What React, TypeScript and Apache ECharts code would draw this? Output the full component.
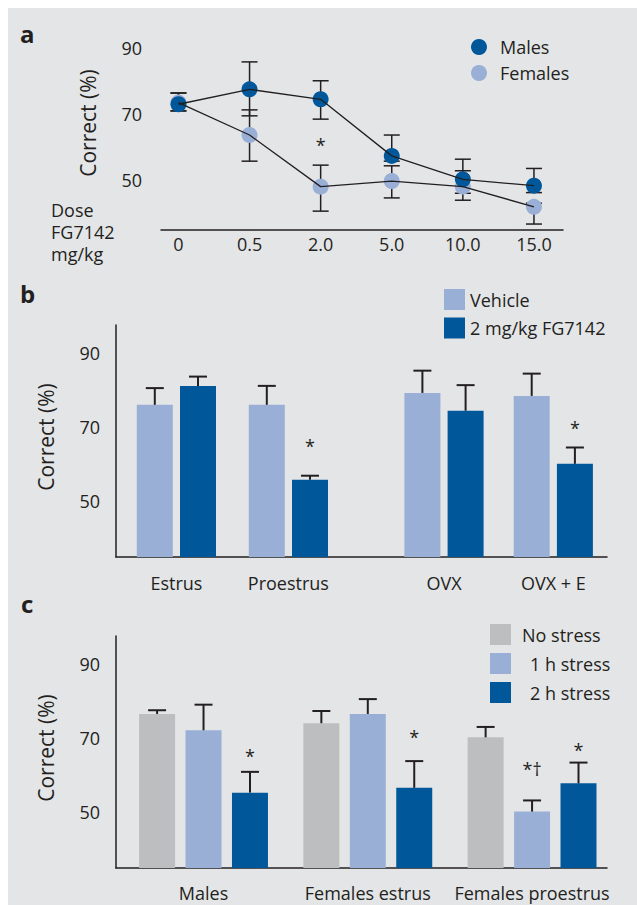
import React, { useEffect, useRef } from 'react';
import * as echarts from 'echarts';

// ---------- data ----------
const doses = ['0', '0.5', '2.0', '5.0', '10.0', '15.0'];
const malesMean = [73, 77.5, 74.5, 57.4, 50.3, 48.4];
const malesLow = [71, 69.5, 68.5, 55.8, 46.1, 46.3];
const malesHigh = [76.4, 85.8, 80.1, 63.7, 56.4, 53.6];
const femalesMean = [73.5, 63.7, 48.1, 49.8, 48.1, 42.0];
const femalesLow = [71, 55.8, 40.7, 44.7, 44.0, 36.8];
const femalesHigh = [76.4, 71.3, 54.6, 54.4, 52.9, 43.1];
const doseMarks = [{ category: '2.0', level: 62, text: '*' }];

const cycleGroups = ['Estrus', 'Proestrus'];
const ovxGroups = ['OVX', 'OVX + E'];
const vehicleMean = [76, 76, 79.2, 78.4];
const vehicleSem = [4.5, 5.1, 6.0, 6.0];
const fg7142Mean = [81.1, 55.8, 74.4, 60.1];
const fg7142Sem = [2.5, 1.1, 6.9, 4.4];
const fg7142Marks = [
  { category: 'Proestrus', level: 66.1, text: '*' },
  { category: 'OVX + E', level: 70.8, text: '*' },
];

const stressGroups = ['Males', 'Females estrus', 'Females proestrus'];
const noStressMean = [76.5, 74.0, 70.2];
const noStressSem = [1.0, 3.3, 2.8];
const stress1hMean = [72.1, 76.5, 50.2];
const stress1hSem = [6.9, 4.0, 3.0];
const stress2hMean = [55.3, 56.6, 57.8];
const stress2hSem = [5.6, 7.2, 5.6];
const stress1hMarks = [{ category: 'Females proestrus', level: 62.7, text: '*†' }];
const stress2hMarks = [
  { category: 'Males', level: 66.3, text: '*' },
  { category: 'Females estrus', level: 71.4, text: '*' },
  { category: 'Females proestrus', level: 67.9, text: '*' },
];

const yTickLabels = [50, 70, 90];

// ---------- styles ----------
const INK = '#231f20';
const BG = '#e4e5e7';
const DARK = '#00589b';
const LIGHT = '#9aafd6';
const GREY = '#bdbec0';
const FONT = "'Open Sans', sans-serif";
const FS = 18;
const BAR_W = 36;

const lineOnlyX = (gridIndex: number) => ({
  type: 'value', gridIndex, min: 0, max: 1,
  axisLine: { show: true, onZero: false, lineStyle: { color: INK, width: 1.5 } },
  axisTick: { show: false }, axisLabel: { show: false }, splitLine: { show: false },
});
const catX = (gridIndex: number, data: string[], margin: number) => ({
  type: 'category', gridIndex, data,
  axisLine: { show: false }, axisTick: { show: false }, splitLine: { show: false },
  axisLabel: { color: INK, fontSize: FS, fontFamily: FONT, margin, interval: 0 },
});
const labelY = (gridIndex: number, max: number, showLine: boolean, margin: number) => ({
  type: 'value', gridIndex, min: 35, max, interval: 5,
  axisLine: { show: showLine, onZero: false, lineStyle: { color: INK, width: 1.5 } },
  axisTick: { show: false }, splitLine: { show: false },
  axisLabel: {
    color: INK, fontSize: FS, fontFamily: FONT, margin,
    formatter: (v: number) => (yTickLabels.includes(v) ? String(v) : ''),
  },
});
const hiddenY = (gridIndex: number, max: number) => ({
  type: 'value', gridIndex, min: 35, max, show: false, splitLine: { show: false },
});

const rangeBars = (name: string, xi: number, low: number[], high: number[]) => ({
  type: 'custom', name, xAxisIndex: xi, yAxisIndex: xi, z: 3, silent: true,
  encode: { x: 0, y: [1, 2] },
  data: low.map((l, i) => [i, l, high[i]]),
  renderItem: (params: any, api: any) => {
    const lo = api.coord([api.value(0), api.value(1)]);
    const hi = api.coord([api.value(0), api.value(2)]);
    const x = lo[0];
    const h = 8;
    const st = { stroke: INK, lineWidth: 1.5 };
    return {
      type: 'group', children: [
        { type: 'line', shape: { x1: x, y1: lo[1], x2: x, y2: hi[1] }, style: st },
        { type: 'line', shape: { x1: x - h, y1: lo[1], x2: x + h, y2: lo[1] }, style: st },
        { type: 'line', shape: { x1: x - h, y1: hi[1], x2: x + h, y2: hi[1] }, style: st },
      ],
    };
  },
});

const whiskers = (name: string, xi: number, mean: number[], sem: number[], offset: number) => ({
  type: 'custom', name, xAxisIndex: xi, yAxisIndex: xi, z: 5, silent: true,
  encode: { x: 0, y: [1, 2] },
  data: mean.map((m, i) => [i, m, m + sem[i]]),
  renderItem: (params: any, api: any) => {
    const p0 = api.coord([api.value(0), api.value(1)]);
    const p1 = api.coord([api.value(0), api.value(2)]);
    const x = p0[0] + offset;
    const st = { stroke: INK, lineWidth: 2 };
    return {
      type: 'group', children: [
        { type: 'line', shape: { x1: x, y1: p0[1], x2: x, y2: p1[1] }, style: st },
        { type: 'line', shape: { x1: x - 9, y1: p1[1], x2: x + 9, y2: p1[1] }, style: st },
      ],
    };
  },
});

const markTexts = (
  name: string, xi: number, cats: string[],
  marks: { category: string; level: number; text: string }[], offset: number,
) => {
  const list = marks.filter((m) => cats.includes(m.category));
  return {
    type: 'custom', name, xAxisIndex: xi, yAxisIndex: xi, z: 7, silent: true,
    encode: { x: 0, y: 1 },
    data: list.map((m) => [cats.indexOf(m.category), m.level]),
    renderItem: (params: any, api: any) => {
      const m = list[params.dataIndex];
      const p = api.coord([api.value(0), api.value(1)]);
      return {
        type: 'text', x: p[0] + offset, y: p[1] + 4,
        style: { text: m.text, fill: INK, fontSize: FS, fontFamily: FONT, align: 'center', verticalAlign: 'middle' },
      };
    },
  };
};

const barSeries = (name: string, xi: number, data: number[], color: string, gap: string) => ({
  type: 'bar', name, xAxisIndex: xi, yAxisIndex: xi, data, barWidth: BAR_W, barGap: gap,
  itemStyle: { color }, z: 2, silent: true,
});

export default function App() {
  const ref = useRef<HTMLDivElement>(null);
  useEffect(() => {
    if (!ref.current) return;
    const chart = echarts.init(ref.current, undefined, { renderer: 'svg' });
    const gapB = 0.2 * BAR_W;
    const gapC = 0.29 * BAR_W;
    const offB = (k: number) => (k - 0.5) * (BAR_W + gapB);
    const offC = (k: number) => (k - 1) * (BAR_W + gapC);
    const allB = [...cycleGroups, ...ovxGroups];
    const nL = cycleGroups.length;

    const textStyleBase = { color: INK, fontSize: FS, fontFamily: FONT };
    const titleStyle = { text: 'Correct (%)', fill: INK, fontSize: 21, fontFamily: FONT, align: 'center', verticalAlign: 'middle' };
    const letterStyle = { fill: INK, fontSize: 24, fontWeight: 'bold', fontFamily: FONT, align: 'left', verticalAlign: 'middle' };

    const option: any = {
      animation: false,
      backgroundColor: '#ffffff',
      textStyle: { fontFamily: FONT, color: INK },
      grid: [
        { left: 161, top: 48, width: 402, height: 182 },
        { left: 142.9, top: 48, width: 426.6, height: 182 },
        { left: 116, top: 325, width: 491, height: 232 },
        { left: 120.4, top: 325, width: 224, height: 232 },
        { left: 389.35, top: 325, width: 218.6, height: 232 },
        { left: 116, top: 636, width: 491, height: 232 },
        { left: 121.4, top: 636, width: 492.8, height: 232 },
      ],
      xAxis: [
        lineOnlyX(0),
        catX(1, doses, 5),
        lineOnlyX(2),
        catX(3, cycleGroups, 17),
        catX(4, ovxGroups, 17),
        lineOnlyX(5),
        catX(6, stressGroups, 16),
      ],
      yAxis: [
        labelY(0, 90, false, 19),
        hiddenY(1, 90),
        labelY(2, 97.5, true, 16),
        hiddenY(3, 97.5),
        hiddenY(4, 97.5),
        labelY(5, 97.5, true, 16),
        hiddenY(6, 97.5),
      ],
      legend: [
        {
          data: ['Males', 'Females'], orient: 'vertical', left: 471, top: 38, padding: 0,
          itemWidth: 16, itemHeight: 16, itemGap: 8, icon: 'circle', selectedMode: false,
          textStyle: { ...textStyleBase, padding: [0, 0, 0, 8] },
        },
        {
          data: ['Vehicle', '2 mg/kg FG7142'], orient: 'vertical', left: 444, top: 289, padding: 0,
          itemWidth: 21, itemHeight: 21, itemGap: 7.5, icon: 'rect', selectedMode: false,
          textStyle: { ...textStyleBase },
        },
        {
          data: ['No stress', '1 h stress', '2 h stress'], orient: 'vertical', left: 490, top: 624, padding: 0,
          itemWidth: 21, itemHeight: 21, itemGap: 8, icon: 'rect', selectedMode: false,
          formatter: (name: string) => (name === 'No stress' ? `{n|${name}}` : `{s|${name}}`),
          textStyle: {
            ...textStyleBase,
            rich: {
              n: { ...textStyleBase, padding: [0, 0, 0, 6] },
              s: { ...textStyleBase, padding: [0, 0, 0, 14] },
            },
          },
        },
      ],
      graphic: [
        { type: 'rect', z: -10, silent: true, shape: { x: 8, y: 8, width: 629, height: 897 }, style: { fill: BG } },
        { type: 'text', x: 20, y: 33, style: { ...letterStyle, text: 'a' } },
        { type: 'text', x: 20, y: 293, style: { ...letterStyle, text: 'b' } },
        { type: 'text', x: 21, y: 603, style: { ...letterStyle, text: 'c' } },
        { type: 'text', x: 88, y: 123, rotation: Math.PI / 2, style: { ...titleStyle } },
        { type: 'text', x: 46, y: 437, rotation: Math.PI / 2, style: { ...titleStyle } },
        { type: 'text', x: 46, y: 748, rotation: Math.PI / 2, style: { ...titleStyle } },
        { type: 'text', x: 51, y: 199, style: { text: 'Dose\nFG7142\nmg/kg', fill: INK, fontSize: FS, lineHeight: 22, fontFamily: FONT, align: 'left', verticalAlign: 'top' } },
      ],
      series: [
        // panel a
        rangeBars('Males SEM', 1, malesLow, malesHigh),
        rangeBars('Females SEM', 1, femalesLow, femalesHigh),
        {
          type: 'scatter', name: 'Females', xAxisIndex: 1, yAxisIndex: 1, data: femalesMean,
          symbolSize: 16, itemStyle: { color: LIGHT, opacity: 1 }, z: 4, silent: true,
        },
        {
          type: 'scatter', name: 'Males', xAxisIndex: 1, yAxisIndex: 1, data: malesMean,
          symbolSize: 16, itemStyle: { color: DARK, opacity: 1 }, z: 5, silent: true,
        },
        {
          type: 'line', name: 'Males trend', xAxisIndex: 1, yAxisIndex: 1, data: malesMean,
          symbol: 'none', lineStyle: { color: INK, width: 1.3 }, z: 6, silent: true,
        },
        {
          type: 'line', name: 'Females trend', xAxisIndex: 1, yAxisIndex: 1, data: femalesMean,
          symbol: 'none', lineStyle: { color: INK, width: 1.3 }, z: 6, silent: true,
        },
        markTexts('Dose marks', 1, doses, doseMarks, 0),
        // panel b
        barSeries('Vehicle', 3, vehicleMean.slice(0, nL), LIGHT, '20%'),
        barSeries('2 mg/kg FG7142', 3, fg7142Mean.slice(0, nL), DARK, '20%'),
        barSeries('Vehicle', 4, vehicleMean.slice(nL), LIGHT, '20%'),
        barSeries('2 mg/kg FG7142', 4, fg7142Mean.slice(nL), DARK, '20%'),
        whiskers('Vehicle SEM L', 3, vehicleMean.slice(0, nL), vehicleSem.slice(0, nL), offB(0)),
        whiskers('FG SEM L', 3, fg7142Mean.slice(0, nL), fg7142Sem.slice(0, nL), offB(1)),
        whiskers('Vehicle SEM R', 4, vehicleMean.slice(nL), vehicleSem.slice(nL), offB(0)),
        whiskers('FG SEM R', 4, fg7142Mean.slice(nL), fg7142Sem.slice(nL), offB(1)),
        markTexts('FG marks L', 3, allB.slice(0, nL), fg7142Marks, offB(1)),
        markTexts('FG marks R', 4, allB.slice(nL), fg7142Marks, offB(1)),
        // panel c
        barSeries('No stress', 6, noStressMean, GREY, '29%'),
        barSeries('1 h stress', 6, stress1hMean, LIGHT, '29%'),
        barSeries('2 h stress', 6, stress2hMean, DARK, '29%'),
        whiskers('No stress SEM', 6, noStressMean, noStressSem, offC(0)),
        whiskers('1 h SEM', 6, stress1hMean, stress1hSem, offC(1)),
        whiskers('2 h SEM', 6, stress2hMean, stress2hSem, offC(2)),
        markTexts('1 h marks', 6, stressGroups, stress1hMarks, offC(1)),
        markTexts('2 h marks', 6, stressGroups, stress2hMarks, offC(2)),
      ],
    };
    chart.setOption(option);
    return () => chart.dispose();
  }, []);
  return (
    <div
      ref={ref}
      style={{ position: 'absolute', left: 0, top: 0, width: 637, height: 905 }}
    />
  );
}
